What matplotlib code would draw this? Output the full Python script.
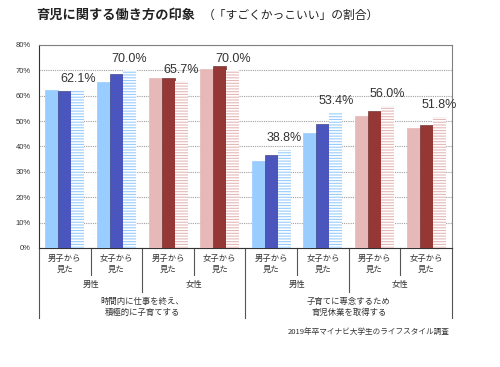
import numpy as np
import matplotlib.pyplot as plt
import matplotlib.transforms as mtransforms

plt.rcParams['font.family'] = ['Noto Sans CJK JP', 'DejaVu Sans']
plt.rcParams['hatch.linewidth'] = 1.2

# data
groups = ['男子から\n見た', '女子から\n見た'] * 4
genders = ['男性', '女性', '男性', '女性']
topics = ['時間内に仕事を終え、\n積極的に子育てする', '子育てに専念するため\n育児休業を取得する']
light = [62.4, 65.4, 66.9, 70.5, 34.4, 45.3, 52.2, 47.1]
dark = [62.0, 68.7, 66.9, 71.6, 36.5, 48.8, 53.8, 48.6]
striped = [62.1, 70.0, 65.7, 70.0, 38.8, 53.4, 56.0, 51.8]
yticks = [0, 10, 20, 30, 40, 50, 60, 70, 80]

blue = ['#99CCFF', '#4A56BE', '#99CCFF']
red = ['#E6B9B8', '#953735', '#E6B9B8']

fig = plt.figure(figsize=(5, 3.67), dpi=100)
ax = fig.add_axes([0.078, 0.3243, 0.826, 0.5531])

x = np.arange(len(light))
w = 0.252
for i in x:
    cols = blue if (i // 2) % 2 == 0 else red
    ax.bar(i - w, light[i], w, color=cols[0], edgecolor=cols[0], linewidth=0.5, zorder=3)
    ax.bar(i, dark[i], w, color=cols[1], edgecolor='#2E2E6E' if cols is blue else '#5E1F1E',
           linewidth=0.4, zorder=3)
    ax.bar(i + w, striped[i], w, color=cols[2], edgecolor='white', linewidth=0,
           hatch='------', zorder=3)
    ax.text(i + w, striped[i] + 4.5, f'{striped[i]:.1f}%', ha='center', va='center',
            fontsize=9, color='#333333', family=['Liberation Sans', 'DejaVu Sans'], zorder=4)

ax.set_xlim(-0.5, 7.5)
ax.set_ylim(0, 80)
ax.set_yticks(yticks)
ax.set_yticklabels([f'{t}%' for t in yticks], fontsize=5.5, color='#333333',
                   family=['Liberation Sans Narrow', 'Liberation Sans', 'DejaVu Sans'])
ax.tick_params(axis='y', length=0, pad=6)
ax.set_xticks([])
ax.yaxis.grid(True, linestyle=(0, (1, 1)), color='#A0A0A0', linewidth=0.8, zorder=0)
for s in ['top', 'right']:
    ax.spines[s].set_color('#808080')
ax.spines['left'].set_color('#333333')
ax.spines['bottom'].set_color('#333333')
for s in ax.spines.values():
    s.set_linewidth(0.8)

# category table under the axis
trans = mtransforms.blended_transform_factory(ax.transData, ax.transAxes)
for i, lab in enumerate(groups):
    ax.text(i, -0.079, lab, transform=trans, ha='center', va='center', fontsize=6,
            color='#333333', linespacing=1.3)
for j, lab in enumerate(genders):
    ax.text(2 * j + 0.5, -0.182, lab, transform=trans, ha='center', va='center',
            fontsize=6, color='#333333')
for k, lab in enumerate(topics):
    ax.text(4 * k + 1.5, -0.291, lab, transform=trans, ha='center', va='center',
            fontsize=6, color='#333333', linespacing=1.3)

for b in np.arange(-0.5, 8, 1.0):
    if b in (-0.5, 3.5, 7.5):
        y1 = -0.345
    elif b in (1.5, 5.5):
        y1 = -0.217
    else:
        y1 = -0.133
    ax.plot([b, b], [0, y1], transform=trans, color='#555555', linewidth=0.8, clip_on=False)

fig.text(0.072, 0.959, '育児に関する働き方の印象', fontsize=9.5, fontweight='bold',
         color='#222222', va='center')
fig.text(0.405, 0.959, '（「すごくかっこいい」の割合）', fontsize=8.5, color='#222222', va='center')
fig.text(0.9, 0.095, '2019年卒マイナビ大学生のライフスタイル調査', fontsize=5.5,
         color='#333333', ha='right', va='center')

fig.savefig('out.png', dpi=100)
